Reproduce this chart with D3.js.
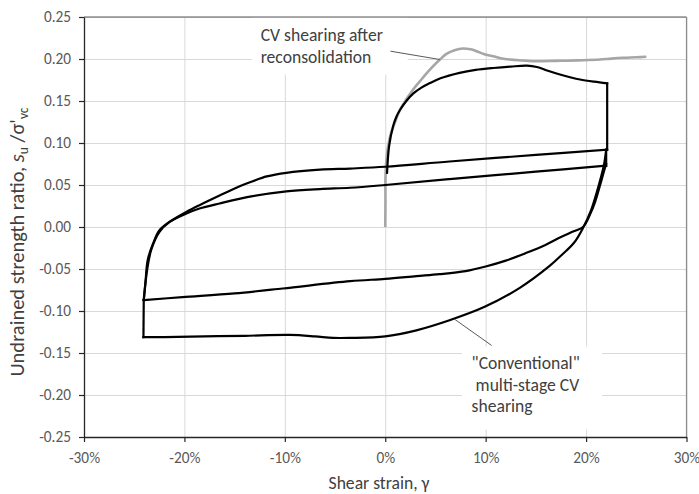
<!DOCTYPE html>
<html lang="en">
  <head>
    <meta charset="utf-8" />
    <script src="https://d3js.org/d3.v7.min.js"></script>
    <style>
      body { margin: 0; background: #fff; }
      text { font-family: Carlito, Calibri, Lato, sans-serif; }
      .tick text { fill: #595959; font-size: 15.3px; }
      .grid line { stroke: #d9d9d9; stroke-width: 1; }
      .grid .domain { display: none; }
    </style>
  </head>
  <body>
    <svg id="chart" width="699" height="494"></svg>
    <script>
      // strain (%) , strength ratio
      const xTicks = [-30, -20, -10, 0, 10, 20, 30];
      const yTicks = [-0.25, -0.2, -0.15, -0.1, -0.05, 0, 0.05, 0.1, 0.15, 0.2, 0.25];

      // gray: CV shearing after reconsolidation
      const cvAfterRecon = [[0,0],[0.02,0.03],[0.02,0.056],[0.1,0.078],[0.28,0.096],[0.55,0.111],[0.95,0.124],
        [1.45,0.139],[2.1,0.152],[2.8,0.164],[3.6,0.1756],[4.2,0.184],[4.77,0.1915],[5.5,0.2],[6.1,0.206],
        [6.9,0.2105],[7.76,0.2125],[8.5,0.2115],[9.1,0.2093],[9.8,0.206],[10.75,0.2033],[11.5,0.201],
        [12.4,0.1994],[13.5,0.1983],[14.7,0.1974],[15.7,0.1974],[17,0.1978],[18.07,0.198],[19.7,0.1985],
        [21.4,0.1994],[22.5,0.2005],[23.7,0.2014],[25,0.202],[26,0.2026]];

      // black: "conventional" multi-stage CV shearing, one smooth piece per array
      const stage1 = [[0.18,0.0645],[0.38,0.096],[0.78,0.12],[1.1,0.131],[1.45,0.139],[2.1,0.15],[2.8,0.159],
        [3.6,0.166],[4.4,0.171],[5.5,0.177],[7.4,0.1835],[9,0.187],[10.75,0.1893],[12.5,0.191],[14.1,0.192],
        [15.1,0.1905],[16.2,0.186],[17.4,0.1815],[18.5,0.178],[19.4,0.1756],[20.8,0.173],[22.1,0.171]];
      const drop1 = [[22.1,0.171],[22.1,0.092]];
      const unload1 = [[22.1,0.092],[15,0.0858],[6.4,0.078],[0,0.0717],[-3.5,0.0696],
        [-6.5,0.0682],[-9.85,0.0645],[-11.8,0.0602],[-13.2,0.0545],[-14.5,0.0486],[-16.5,0.0375],[-18.5,0.026],
        [-19.8,0.018],[-21.5,0.006],[-22.5,-0.004],[-23.1,-0.019],[-23.65,-0.039],[-23.88,-0.066],[-24.05,-0.087]];
      const drop2 = [[-24.05,-0.087],[-24.08,-0.131]];
      const reverse1 = [[-24.08,-0.131],[-22,-0.131],[-18,-0.1302],[-14,-0.1295],[-9.5,-0.1285],
        [-7,-0.1302],[-5.2,-0.132],[-3.5,-0.132],[0,-0.1302],[3.1,-0.123],[6.4,-0.111],[9.9,-0.095],
        [13.4,-0.0724],[16.4,-0.046],[17.6,-0.033],[18.8,-0.0188],[19.7,-0.001],[20.5,0.02],[21.05,0.0407],
        [21.5,0.06],[21.8,0.075],[22,0.092]];
      const drop3 = [[22,0.092],[22,0.073]];
      const unload2 = [[22,0.073],[15,0.0659],[6.4,0.057],[0,0.05],[-3.5,0.0467],[-6.5,0.0452],
        [-9.85,0.0425],[-13.2,0.0367],[-16.5,0.028],[-18.5,0.022],[-19.8,0.016],[-21.5,0.0057],[-22.5,-0.006],
        [-23.3,-0.027],[-23.7,-0.05],[-24.05,-0.087]];
      const reverse2 = [[-24.05,-0.087],[-20.2,-0.0835],[-15,-0.079],[-10.2,-0.0732],[-3.5,-0.0645],[0,-0.0617],
        [3.1,-0.0585],[5.4,-0.0562],[8,-0.0525],[10,-0.047],[12,-0.04],[14,-0.031],[16,-0.021],
        [17.5,-0.012],[18.7,-0.0055],[19.7,0.0],[20.4,0.015],[20.9,0.03],[21.4,0.05],[21.75,0.065],[22,0.075]];

      // annotation text & leader lines (data units)
      const noteCV = ["CV shearing after", "reconsolidation"];
      const noteConv = ["\"Conventional\"", " multi-stage CV", "shearing"];
      const leaderCV = [[0.52,0.2093],[5.43,0.1994]];
      const leaderConv = [[6.93,-0.11],[10.59,-0.141]];

      const svg = d3.select("#chart");
      const margin = {top: 17, right: 12.5, bottom: 57, left: 84};
      const width = +svg.attr("width");
      const height = +svg.attr("height");
      const plotW = width - margin.left - margin.right;
      const plotH = height - margin.top - margin.bottom;

      svg.append("rect").attr("width", width).attr("height", height).attr("fill", "#fff");

      const xScale = d3.scaleLinear().domain([-30, 30]).range([margin.left, margin.left + plotW]);
      const yScale = d3.scaleLinear().domain([-0.25, 0.25]).range([margin.top + plotH, margin.top]);

      // gridlines
      svg.append("g").attr("class", "grid")
        .attr("transform", "translate(0," + (margin.top + plotH) + ")")
        .call(d3.axisBottom(xScale).tickValues(xTicks).tickSize(-plotH).tickFormat(""));
      svg.append("g").attr("class", "grid")
        .attr("transform", "translate(" + margin.left + ",0)")
        .call(d3.axisLeft(yScale).tickValues(yTicks).tickSize(-plotW).tickFormat(""));

      // white boxes behind the notes
      svg.append("rect")
        .attr("x", xScale(-13.3)).attr("y", yScale(0.2494))
        .attr("width", xScale(2.24) - xScale(-13.3)).attr("height", yScale(0.1815) - yScale(0.2494))
        .attr("fill", "#fff");
      svg.append("rect")
        .attr("x", xScale(7.63)).attr("y", yScale(-0.1423))
        .attr("width", xScale(21.6) - xScale(7.63)).attr("height", yScale(-0.2411) - yScale(-0.1423))
        .attr("fill", "#fff");

      // plot border (top / right)
      svg.append("line").attr("x1", xScale(-30)).attr("x2", xScale(30))
        .attr("y1", yScale(0.25)).attr("y2", yScale(0.25))
        .attr("stroke", "#595959").attr("stroke-width", 1.2);
      svg.append("line").attr("x1", xScale(30)).attr("x2", xScale(30))
        .attr("y1", yScale(0.25)).attr("y2", yScale(-0.25))
        .attr("stroke", "#8c8c8c").attr("stroke-width", 1.2);

      // axes
      let bottomAxis = svg.append("g")
        .attr("transform", "translate(0," + (margin.top + plotH) + ")")
        .call(d3.axisBottom(xScale).tickValues(xTicks).tickSize(5).tickSizeOuter(0).tickFormat(d => d + "%"));
      bottomAxis.selectAll("text").attr("y", 15).attr("dy", "0.71em");
      let leftAxis = svg.append("g")
        .attr("transform", "translate(" + margin.left + ",0)")
        .call(d3.axisLeft(yScale).tickValues(yTicks).tickSize(5).tickSizeOuter(0).tickFormat(d => d.toFixed(2)));
      leftAxis.selectAll("text").attr("x", -13);
      svg.selectAll(".domain").attr("stroke", "#262626").attr("stroke-width", 1.3);
      svg.selectAll(".tick line").filter(function() { return this.parentNode.parentNode.getAttribute("class") !== "grid"; })
        .attr("stroke", "#262626").attr("stroke-width", 1.2);

      const line = d3.line().x(d => xScale(d[0])).y(d => yScale(d[1]))
        .curve(d3.curveCatmullRom.alpha(0.5));

      // curves
      svg.append("path").datum(cvAfterRecon)
        .attr("d", line).attr("fill", "none")
        .attr("stroke", "#a6a6a6").attr("stroke-width", 2.6).attr("stroke-linejoin", "round");
      const blackSeries = [stage1, drop1, unload1, drop2, reverse1, drop3, unload2, reverse2];
      svg.selectAll("path.conv").data(blackSeries)
        .join("path").attr("class", "conv")
        .attr("d", line).attr("fill", "none")
        .attr("stroke", "#000").attr("stroke-width", 2.2)
        .attr("stroke-linejoin", "round").attr("stroke-linecap", "square");

      // leader lines
      const straight = d3.line().x(d => xScale(d[0])).y(d => yScale(d[1]));
      [leaderCV, leaderConv].forEach(l => {
        svg.append("path").datum(l).attr("d", straight)
          .attr("stroke", "#595959").attr("stroke-width", 1).attr("fill", "none");
      });

      // notes
      const noteG = svg.append("g").attr("fill", "#404040").style("font-size", "17.6px");
      noteCV.forEach((t, i) => {
        noteG.append("text").attr("x", xScale(-12.4)).attr("y", yScale(0.2212) + i * 21.6)
          .style("white-space", "pre").text(t);
      });
      noteConv.forEach((t, i) => {
        noteG.append("text").attr("x", xScale(8.6)).attr("y", yScale(-0.1696) + i * 21.4)
          .attr("xml:space", "preserve").style("white-space", "pre").text(t);
      });

      // axis titles
      svg.append("text")
        .attr("x", 379).attr("y", 489)
        .attr("text-anchor", "middle").attr("fill", "#404040").style("font-size", "17.6px")
        .text("Shear strain, γ");
      let yTitle = svg.append("text")
        .attr("transform", "translate(24,242) rotate(-90)")
        .attr("text-anchor", "middle").attr("fill", "#404040").style("font-size", "20.5px");
      yTitle.append("tspan").text("Undrained strength ratio, ");
      yTitle.append("tspan").style("font-style", "italic").text("s");
      yTitle.append("tspan").attr("dy", 4).style("font-size", "13.5px").text("u");
      yTitle.append("tspan").attr("dy", -4).text(" /σ'");
      yTitle.append("tspan").attr("dy", 4).style("font-size", "13.5px").text("vc");
    </script>
  </body>
</html>
